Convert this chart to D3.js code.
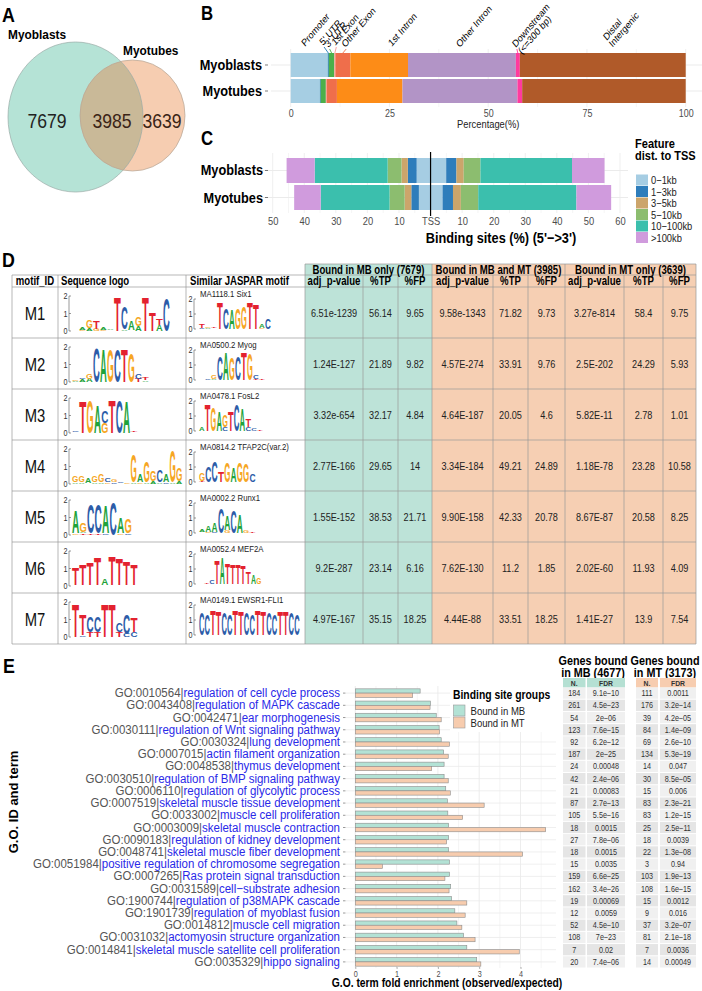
<!DOCTYPE html>
<html>
<head>
<meta charset="utf-8">
<script src="https://cdn.jsdelivr.net/npm/d3@7"></script>
<style>
  body { margin: 0; background: #fff; }
  svg text { font-family: "Liberation Sans", Arial, Helvetica, sans-serif; }
</style>
</head>
<body>
<svg id="fig" width="702" height="991"></svg>
<script>
// ---------------- data ----------------

// A: overlap of binding sites
var vennNames = ["Myoblasts", "Myotubes"];
var vennCounts = [7679, 3985, 3639];   // MB only, both, MT only

// B: genomic annotation (% of sites)
var annoCats = ["Promoter", "5' UTR", "3' UTR", "1st Exon", "Other Exon", "1st Intron",
                "Other Intron", "Downstream\n(<=300 bp)", "Distal\nIntergenic"];
var annoColors = ["#a6cee3", "#1f78b4", "#4caf4a", "#fb9a99", "#ef6e4b", "#fd8c17",
                  "#b294c6", "#ff3a9e", "#b05a29"];
var annoMB = [9.4, 0.25, 1.4, 0.25, 3.8, 14.6, 27.3, 1.0, 42.0];
var annoMT = [7.4, 0.2, 1.3, 0.2, 2.6, 16.6, 29.1, 1.2, 41.4];
var annoLabelAt = [3.6, 8.2, 9.6, 11.3, 13.8, 25.6, 42.8, 57.0, 80.0];

// C: distance to TSS (% of sites), upstream / downstream
var distBins = ["0\u22121kb", "1\u22123kb", "3\u22125kb", "5\u221210kb", "10\u2212100kb", ">100kb"];
var distColors = ["#a6cde3", "#2e7dbb", "#cca56b", "#8cbd6f", "#3bbfad", "#d09bdd"];
var distUpMB = [4.4, 2.8, 2.0, 4.4, 23.1, 8.9];
var distDownMB = [4.95, 3.25, 2.3, 5.3, 29.0, 10.3];
var distUpMT = [3.7, 2.4, 2.1, 4.8, 21.8, 8.4];
var distDownMT = [3.8, 3.3, 2.5, 5.5, 31.1, 11.0];
var distTicks = [-50, -40, -30, -20, -10, 0, 10, 20, 30, 40, 50, 60];

// D: motif table
var motifIds = ["M1", "M2", "M3", "M4", "M5", "M6", "M7"];
var jasparNames = ["MA1118.1 Six1", "MA0500.2 Myog", "MA0478.1 FosL2", "MA0814.2 TFAP2C(var.2)",
                   "MA0002.2 Runx1", "MA0052.4 MEF2A", "MA0149.1 EWSR1-FLI1"];
var groupHeads = ["Bound in MB only (7679)", "Bound in MB and MT (3985)", "Bound in MT only (3639)"];
var subHeads = ["adj_p-value", "%TP", "%FP"];
var pvalMB = ["6.51e-1239", "1.24E-127", "3.32e-654", "2.77E-166", "1.55E-152", "9.2E-287", "4.97E-167"];
var tpMB = ["56.14", "21.89", "32.17", "29.65", "38.53", "23.14", "35.15"];
var fpMB = ["9.65", "9.82", "4.84", "14", "21.71", "6.16", "18.25"];
var pvalBoth = ["9.58e-1343", "4.57E-274", "4.64E-187", "3.34E-184", "9.90E-158", "7.62E-130", "4.44E-88"];
var tpBoth = ["71.82", "33.91", "20.05", "49.21", "42.33", "11.2", "33.51"];
var fpBoth = ["9.73", "9.76", "4.6", "24.89", "20.78", "1.85", "18.25"];
var pvalMT = ["3.27e-814", "2.5E-202", "5.82E-11", "1.18E-78", "8.67E-87", "2.02E-60", "1.41E-27"];
var tpMT = ["58.4", "24.29", "2.78", "23.28", "20.58", "11.93", "13.9"];
var fpMT = ["9.75", "5.93", "1.01", "10.58", "8.25", "4.09", "7.54"];

// sequence logos: positions split by space, letters bottom->top as Letter+bits
var seqLogos = [
  "A.05,G.05 G.08,A.15 A.15,G.45 G.12,T.45 G.08,A.15 C.05,A.08 T1.95 A.1,C1.3 T.05,A.5 A.3,G.55 T1.95 T1.05 A.35,T.35 C1.9",
  "A.08,G.08 A.15,C.1 A.2,G.3 C1.95 A1.9 G1.9 C1.9 T1.9 G1.7 T.2,C.3 A.1,T.12 C.05,G.05",
  "G.05,C.08 T1.85 G1.9 A1.6 G.6,C.7 T1.9 C1.9 A1.8 C.05,T.1",
  "A.1,G.35 A.1,G.4 C.05,A.3 A.1,G.35 A.1,G.45 G.1,C.25 C.1,G.15 A.05,C.1 G.08,C.05 A.1,G1.6 G.1,A.45 A.1,G1.2 A.15,G.6 A.1,C.7 C.1,A.45 A.1,G1.8 A.15,G.75",
  "G.1,A1.3 T.1,A.1,G.5 T.1,C1.7 T.1,C1.7 C.1,A1.6 C1.9 G.1,A.9 C.1,G.8",
  "A.05,T1.0 A.05,T1.2 A.05,T1.3 A.05,T1.6 T.05,A.4 A.05,T1.7 A.05,T1.5 A.05,T1.4 A.05,T1.2",
  "T1.9 C.1,T1.2 T.3,C.9 T.3,C.9 T1.9 T1.9 T.3,C.5 C.2,C1.1 C.3,T.8"
];
var jasparLogos = [
  "C.1,T.3 A.1,G.1 C.05,T.1 T1.8 C1.4 A1.3 G1.4 G1.5 T1.8 T1.7 G.1,A.3 C.7",
  "A.05,G.05 C.1 A.1,G.3 C1.6 A1.9 G1.5 C1.6 T1.9 G1.8 T.1,C.25 T.1",
  "A.3 T1.8 G1.6 A1.3 C.3,G.8 T1.3 C1.8 A1.5 C.3,T.5 C.2 T.1 C.05,A.05",
  "T.1,G.5 C1.1 C1.4 T.7 G1.3 A1.0 G1.3 G1.2 C.5",
  "G.05,A.2 G.1,A.4 C.1,A.6 C1.7 G.2,A1.0 C1.5 A1.2 G.2 T.1",
  "C.05 T.1 C.3 T1.6 A1.8 T1.4 T1.3 T1.3 T1.2 T.8 A.6 G.4 A.05 C.05",
  "C1.5 C1.45 T1.65 T1.6 C1.5 C1.4 T1.65 T1.6 C1.5 C1.45 T1.65 T1.6 C1.5 C1.45 T1.6 T1.6 C1.5 C1.4"
];

// E: GO enrichment
var goIds = ["GO:0010564", "GO:0043408", "GO:0042471", "GO:0030111", "GO:0030324", "GO:0007015",
  "GO:0048538", "GO:0030510", "GO:0006110", "GO:0007519", "GO:0033002", "GO:0003009",
  "GO:0090183", "GO:0048741", "GO:0051984", "GO:0007265", "GO:0031589", "GO:1900744",
  "GO:1901739", "GO:0014812", "GO:0031032", "GO:0014841", "GO:0035329"];
var goTerms = ["regulation of cell cycle process", "regulation of MAPK cascade", "ear morphogenesis",
  "regulation of Wnt signaling pathway", "lung development", "actin filament organization",
  "thymus development", "regulation of BMP signaling pathway", "regulation of glycolytic process",
  "skeletal muscle tissue development", "muscle cell proliferation", "skeletal muscle contraction",
  "regulation of kidney development", "skeletal muscle fiber development",
  "positive regulation of chromosome segregation", "Ras protein signal transduction",
  "cell\u2212substrate adhesion", "regulation of p38MAPK cascade", "regulation of myoblast fusion",
  "muscle cell migration", "actomyosin structure organization",
  "skeletal muscle satellite cell proliferation", "hippo signaling"];
var foldMB = [1.57, 1.82, 1.96, 2.03, 2.08, 2.14, 2.15, 2.15, 2.19, 2.23, 2.24, 2.26,
              2.26, 2.26, 2.28, 2.28, 2.31, 2.33, 2.41, 2.46, 2.62, 2.70, 2.94];
var foldMT = [1.39, 1.81, 2.08, 2.04, 2.28, 2.25, 1.85, 2.25, 2.30, 3.12, 2.60, 4.61,
              2.21, 4.05, 0.66, 2.17, 2.27, 2.70, 2.66, 2.58, 2.90, 3.97, 3.04];
var nMB = [184, 261, 54, 123, 92, 187, 24, 42, 21, 87, 105, 18, 27, 18, 15, 159, 162, 19, 12, 52, 108, 7, 20];
var fdrMB = ["9.1e\u221210", "4.5e\u221223", "2e\u221206", "7.6e\u221215", "6.2e\u221212", "2e\u221225",
  "0.00048", "2.4e\u221206", "0.00083", "2.7e\u221213", "5.5e\u221216", "0.0015", "7.8e\u221206",
  "0.0015", "0.0035", "6.6e\u221225", "3.4e\u221226", "0.00069", "0.0059", "4.5e\u221210",
  "7e\u221223", "0.02", "7.4e\u221206"];
var nMT = [111, 176, 39, 84, 69, 134, 14, 30, 15, 83, 83, 25, 18, 22, 3, 103, 108, 15, 9, 37, 81, 7, 14];
var fdrMT = ["0.0011", "3.2e\u221214", "4.2e\u221205", "1.4e\u221209", "2.6e\u221210", "5.3e\u221219",
  "0.047", "8.5e\u221205", "0.006", "2.3e\u221221", "1.2e\u221215", "2.5e\u221211", "0.0039",
  "1.3e\u221208", "0.94", "1.9e\u221213", "1.6e\u221215", "0.0012", "0.016", "3.2e\u221207",
  "2.1e\u221218", "0.0036", "0.00049"];
var groupNames = ["Bound in MB", "Bound in MT"];
var xTicksE = [0, 1, 2, 3, 4];

// ---------------- drawing ----------------
var svg = d3.select("#fig");
var grid = "#ebebeb";

// text helper: the figure's panels were squeezed sideways, so text gets an x scale
function txt(g, x, y, s, size, opt) {
  opt = opt || {};
  var tf = "translate(" + x + "," + y + ") scale(" + (opt.sx || 1) + ",1)";
  if (opt.rot) tf += " rotate(" + opt.rot + ")";
  return g.append("text")
    .attr("transform", tf)
    .attr("font-size", size)
    .attr("text-anchor", opt.anchor || "start")
    .attr("font-weight", opt.bold ? "bold" : null)
    .attr("fill", opt.fill || "#000")
    .text(s);
}

// panel letters
txt(svg, 2, 22, "A", 21, {bold: true, sx: .85});
txt(svg, 201, 20, "B", 21, {bold: true, sx: .8});
txt(svg, 201, 145, "C", 21, {bold: true, sx: .8});
txt(svg, 2, 267, "D", 21, {bold: true, sx: .85});
txt(svg, 3, 673, "E", 21, {bold: true, sx: .85});

// ---- A: venn ----
var gA = svg.append("g");
var vennMB = {cx: 75.5, cy: 117, rx: 67.5, ry: 75};
var vennMT = {cx: 132.5, cy: 115.5, rx: 52.5, ry: 55.5};
function ell(g, e) {
  return g.append("ellipse").attr("cx", e.cx).attr("cy", e.cy).attr("rx", e.rx).attr("ry", e.ry);
}
svg.append("defs").append("clipPath").attr("id", "clipMB").call(function(c) { ell(c, vennMB); });
ell(gA, vennMB).attr("fill", "#b5e3d6");
ell(gA, vennMT).attr("fill", "#f6cdb1");
ell(gA, vennMT).attr("fill", "#c9b998").attr("clip-path", "url(#clipMB)");
ell(gA, vennMB).attr("fill", "none").attr("stroke", "#9aaaa6").attr("stroke-width", 0.7);
ell(gA, vennMT).attr("fill", "none").attr("stroke", "#b5a595").attr("stroke-width", 0.7);
txt(gA, 8, 39, vennNames[0], 13.5, {bold: true, sx: .88});
txt(gA, 123, 55, vennNames[1], 13.5, {bold: true, sx: .88});
txt(gA, 47, 128, vennCounts[0], 20, {anchor: "middle", sx: .88, fill: "#222"});
txt(gA, 112, 128, vennCounts[1], 20, {anchor: "middle", sx: .88, fill: "#3b2416"});
txt(gA, 162, 128, vennCounts[2], 20, {anchor: "middle", sx: .88, fill: "#3b2416"});

// ---- B: annotation bars ----
var gB = svg.append("g");
var xB = d3.scaleLinear().domain([0, 100]).range([290.7, 685.7]);
var yB = d3.scaleBand().domain(vennNames).range([53, 103]).paddingInner(0.077);

d3.range(0, 100.1, 12.5).forEach(function(v) {
  gB.append("line").attr("x1", xB(v)).attr("x2", xB(v)).attr("y1", 49).attr("y2", 107)
    .attr("stroke", grid).attr("stroke-width", v % 25 ? 0.5 : 0.8);
});
vennNames.forEach(function(n) {
  gB.append("line").attr("x1", 271).attr("x2", 705)
    .attr("y1", yB(n) + yB.bandwidth() / 2).attr("y2", yB(n) + yB.bandwidth() / 2)
    .attr("stroke", grid);
});

var annoRows = [{name: vennNames[0], vals: annoMB}, {name: vennNames[1], vals: annoMT}];
annoRows.forEach(function(r) {
  var cum = d3.cumsum(r.vals);
  gB.selectAll(null).data(r.vals).enter().append("rect")
    .attr("x", function(d, i) { return xB(cum[i] - d); })
    .attr("y", yB(r.name))
    .attr("width", function(d, i) { return xB(cum[i]) - xB(cum[i] - d); })
    .attr("height", yB.bandwidth())
    .attr("fill", function(d, i) { return annoColors[i]; });
  txt(gB, 262, yB(r.name) + yB.bandwidth() / 2 + 5, r.name, 15, {bold: true, anchor: "end", sx: .85});
  gB.append("line").attr("x1", 265).attr("x2", 268)
    .attr("y1", yB(r.name) + yB.bandwidth() / 2).attr("y2", yB(r.name) + yB.bandwidth() / 2)
    .attr("stroke", "#444").attr("stroke-width", 0.7);
});

// rotated segment labels with leader lines for the narrow ones
var annoLabelY = [47, 46, 48, 46, 48, 47, 48, 48, 41];
var mbCum = d3.cumsum(annoMB);
annoCats.forEach(function(c, i) {
  var lx = xB(annoLabelAt[i]), ly = annoLabelY[i];
  var t = txt(gB, lx, ly, "", 10.2, {sx: .85, rot: -45});
  c.split("\n").forEach(function(l, k) {
    t.append("tspan").attr("x", 0).attr("dy", k ? "0.95em" : 0).text(l);
  });
  if ([1, 2, 3, 4, 7].indexOf(i) >= 0) {
    gB.append("line")
      .attr("x1", xB(mbCum[i] - annoMB[i] / 2)).attr("y1", yB.range()[0])
      .attr("x2", lx + 1).attr("y2", ly + 1)
      .attr("stroke", annoColors[i]).attr("stroke-width", 0.9);
  }
});

var axB = gB.append("g").attr("transform", "translate(0,104)")
  .call(d3.axisBottom(xB).tickValues([0, 25, 50, 75, 100]).tickSize(0).tickPadding(6));
axB.select(".domain").remove();
axB.selectAll("text").attr("font-size", 10.5).attr("fill", "#4d4d4d").attr("transform", "scale(.85,1)");
txt(gB, xB(50), 128, "Percentage(%)", 11, {anchor: "middle", sx: .85, fill: "#222"});

// ---- C: distance to TSS ----
var gC = svg.append("g");
var xC = d3.scaleLinear().domain([-50, 60]).range([272.7, 620]);
var yC = d3.scaleBand().domain(vennNames).range([158, 210]).paddingInner(0.075);

d3.range(-50, 60.1, 5).forEach(function(v) {
  gC.append("line").attr("x1", xC(v)).attr("x2", xC(v)).attr("y1", 153).attr("y2", 213)
    .attr("stroke", grid).attr("stroke-width", v % 10 ? 0.5 : 0.8);
});
vennNames.forEach(function(n) {
  gC.append("line").attr("x1", 262).attr("x2", 628)
    .attr("y1", yC(n) + yC.bandwidth() / 2).attr("y2", yC(n) + yC.bandwidth() / 2)
    .attr("stroke", grid);
});

var distRows = [
  {name: vennNames[0], up: distUpMB, down: distDownMB},
  {name: vennNames[1], up: distUpMT, down: distDownMT}
];
distRows.forEach(function(r) {
  [[r.up, -1], [r.down, 1]].forEach(function(side) {
    var cum = d3.cumsum(side[0]), sgn = side[1];
    gC.selectAll(null).data(side[0]).enter().append("rect")
      .attr("x", function(d, i) { return sgn > 0 ? xC(cum[i] - d) : xC(-cum[i]); })
      .attr("y", yC(r.name))
      .attr("width", function(d) { return xC(d) - xC(0); })
      .attr("height", yC.bandwidth())
      .attr("fill", function(d, i) { return distColors[i]; });
  });
  txt(gC, 263, yC(r.name) + yC.bandwidth() / 2 + 5, r.name, 15, {bold: true, anchor: "end", sx: .85});
  gC.append("line").attr("x1", 265).attr("x2", 268)
    .attr("y1", yC(r.name) + yC.bandwidth() / 2).attr("y2", yC(r.name) + yC.bandwidth() / 2)
    .attr("stroke", "#444").attr("stroke-width", 0.7);
});
gC.append("line").attr("x1", xC(0)).attr("x2", xC(0)).attr("y1", 152).attr("y2", 216)
  .attr("stroke", "#000").attr("stroke-width", 1.2);

var axC = gC.append("g").attr("transform", "translate(0,211)")
  .call(d3.axisBottom(xC).tickValues(distTicks).tickSize(0).tickPadding(6)
    .tickFormat(function(v) { return v === 0 ? "TSS" : Math.abs(v); }));
axC.select(".domain").remove();
axC.selectAll("text").attr("font-size", 11).attr("fill", "#4d4d4d").attr("transform", "scale(.85,1)");
txt(gC, 501, 243, "Binding sites (%) (5'\u2212>3')", 15, {bold: true, anchor: "middle", sx: .85});

// legend
txt(gC, 635, 148, "Feature", 13, {bold: true, sx: .85});
txt(gC, 635, 160, "dist. to TSS", 13, {bold: true, sx: .85});
distBins.forEach(function(b, i) {
  var cy = 180 + i * 11.5;
  gC.append("rect").attr("x", 636).attr("y", cy - 5.5).attr("width", 12).attr("height", 11)
    .attr("fill", distColors[i]);
  txt(gC, 651, cy + 4, b, 11, {sx: .85, fill: "#222"});
});

// ---- D: motif table ----
var gD = svg.append("g");
var yD = d3.scaleBand().domain(motifIds).range([287, 644]);
var colX = [12, 58, 186, 305, 363, 398, 432, 493, 528, 565, 624, 663, 696];
var line = "#9a9a9a";
var greenD = "#bde3d8", orangeD = "#f6cfb3";

gD.append("rect").attr("x", 305).attr("y", 264).attr("width", 127).attr("height", 380).attr("fill", greenD);
gD.append("rect").attr("x", 432).attr("y", 264).attr("width", 264).attr("height", 380).attr("fill", orangeD);

function hline(x1, x2, y) {
  gD.append("line").attr("x1", x1).attr("x2", x2).attr("y1", y).attr("y2", y)
    .attr("stroke", line).attr("stroke-width", 0.7);
}
function vline(x, y1, y2) {
  gD.append("line").attr("x1", x).attr("x2", x).attr("y1", y1).attr("y2", y2)
    .attr("stroke", line).attr("stroke-width", 0.7);
}
hline(305, 696, 264);
hline(12, 696, 275);
hline(12, 696, 287);
motifIds.forEach(function(m) { hline(12, 696, yD(m) + yD.bandwidth()); });
colX.forEach(function(x, i) {
  var top = [3, 6, 9, 12].indexOf(i) >= 0 ? 264 : 275;
  vline(x, top, 644);
});

// headers
groupHeads.forEach(function(h, k) {
  txt(gD, (colX[3 + 3 * k] + colX[6 + 3 * k]) / 2, 273.5, h, 12, {bold: true, anchor: "middle", sx: .8});
  subHeads.forEach(function(s, j) {
    txt(gD, (colX[3 + 3 * k + j] + colX[4 + 3 * k + j]) / 2, 285, s, 12, {bold: true, anchor: "middle", sx: .8});
  });
});
txt(gD, 35, 285, "motif_ID", 12, {bold: true, anchor: "middle", sx: .8});
txt(gD, 61, 285, "Sequence logo", 12, {bold: true, sx: .8});
txt(gD, 190, 285, "Similar JASPAR motif", 12, {bold: true, sx: .8});

// cells
var tableCols = [pvalMB, tpMB, fpMB, pvalBoth, tpBoth, fpBoth, pvalMT, tpMT, fpMT];
motifIds.forEach(function(m, r) {
  var cy = yD(m) + yD.bandwidth() / 2;
  txt(gD, 35, cy + 7, m, 19, {anchor: "middle", sx: .78, fill: "#111"});
  tableCols.forEach(function(col, j) {
    txt(gD, (colX[3 + j] + colX[4 + j]) / 2, cy + 4, col[r], 11.4, {anchor: "middle", sx: .8, fill: "#222"});
  });
});

// sequence logos: each letter is sized so its cap height equals its information content
var logoColors = {A: "#1fa33b", C: "#2c5ca8", G: "#f6a623", T: "#e3222f"};
function logoAxis(g, x, y0, hgt) {
  g.append("path")
    .attr("d", "M" + (x + 2) + "," + (y0 - hgt) + "h-2V" + y0 + "h2M" + x + "," + (y0 - hgt / 2) + "h2")
    .attr("fill", "none").attr("stroke", "#555").attr("stroke-width", 0.6);
  ["0", "1", "2"].forEach(function(l, i) {
    txt(g, x - 1.5, y0 - i * hgt / 2 + 3, l, 9, {anchor: "end", sx: .8, fill: "#333"});
  });
}
function drawLogo(g, spec, x0, y0, colW, bitPx) {
  spec.split(" ").forEach(function(pos, i) {
    var cum = 0;
    pos.split(",").forEach(function(item) {
      var letter = item[0], h = parseFloat(item.slice(1)) * bitPx;
      if (h > 1.1) {
        g.append("text")
          .attr("x", x0 + i * colW)
          .attr("y", y0 - cum)
          .attr("font-size", h / 0.72)
          .attr("font-weight", "bold")
          .attr("textLength", colW * 0.97)
          .attr("lengthAdjust", "spacingAndGlyphs")
          .attr("fill", logoColors[letter])
          .text(letter);
      }
      cum += h;
    });
  });
}
var seqColW = [7, 7, 7.3, 6.5, 7.5, 7.3, 7.3];
var jasColW = [6, 6, 5.8, 6.3, 6.3, 5.2, 5.6];
motifIds.forEach(function(m, r) {
  var top = yD(m);
  logoAxis(gD, 69, top + 44, 35);
  drawLogo(gD, seqLogos[r], 72, top + 44, seqColW[r], 17.5);
  logoAxis(gD, 194, top + 42, 30);
  drawLogo(gD, jasparLogos[r], 199, top + 42, jasColW[r], 15);
  txt(gD, 200, top + 9.5, jasparNames[r], 9.5, {sx: .82, fill: "#222"});
});

// ---- E: GO enrichment ----
var gE = svg.append("g");
var xE = d3.scaleLinear().domain([0, 4]).range([355.3, 520.5]);
var yE = d3.scaleBand().domain(goIds).range([687, 968]).paddingInner(0.3).paddingOuter(0.15);
var yEin = d3.scaleBand().domain(groupNames).range([0, yE.bandwidth()]);
var fillE = ["#b3e2d5", "#f7ccae"];

d3.range(0, 4.75, 0.5).forEach(function(v) {
  gE.append("line").attr("x1", xE(v)).attr("x2", xE(v)).attr("y1", 686).attr("y2", 968)
    .attr("stroke", grid).attr("stroke-width", v % 1 ? 0.5 : 0.9);
});
goIds.forEach(function(id, i) {
  var cy = yE(id) + yE.bandwidth() / 2;
  gE.append("line").attr("x1", 346).attr("x2", 556).attr("y1", cy).attr("y2", cy)
    .attr("stroke", grid).attr("stroke-width", 0.8);
  gE.append("line").attr("x1", 343).attr("x2", 345.5).attr("y1", cy).attr("y2", cy)
    .attr("stroke", "#555").attr("stroke-width", 0.6);
  var t = txt(gE, 340, cy + 4, "", 12.5, {anchor: "end", sx: .92});
  t.append("tspan").attr("fill", "#555").text(id + "|");
  t.append("tspan").attr("fill", "#2a2ae8").text(goTerms[i]);
});

[foldMB, foldMT].forEach(function(vals, k) {
  gE.selectAll(null).data(vals).enter().append("rect")
    .attr("x", xE(0))
    .attr("y", function(d, i) { return yE(goIds[i]) + yEin(groupNames[k]); })
    .attr("width", function(d) { return xE(d) - xE(0); })
    .attr("height", yEin.bandwidth())
    .attr("fill", fillE[k])
    .attr("stroke", "#8c8c8c").attr("stroke-width", 0.6);
});

var axE = gE.append("g").attr("transform", "translate(0,967)")
  .call(d3.axisBottom(xE).tickValues(xTicksE).tickFormat(d3.format("d")).tickSize(2).tickPadding(1.5));
axE.select(".domain").remove();
axE.selectAll("line").attr("stroke", "#666").attr("stroke-width", 0.5);
axE.selectAll("text").attr("font-size", 8.5).attr("fill", "#4d4d4d").attr("transform", "scale(.85,1)");
txt(gE, 447, 987, "G.O. term fold enrichment (observed/expected)", 12, {bold: true, anchor: "middle", sx: .86});
txt(gE, 18, 802, "G.O. ID and term", 13, {bold: true, anchor: "middle", rot: -90});

// legend
gE.append("rect").attr("x", 450).attr("y", 686).attr("width", 108).attr("height", 46).attr("fill", "#fff");
txt(gE, 453, 699, "Binding site groups", 12.5, {bold: true, sx: .83});
groupNames.forEach(function(n, k) {
  var y = 705 + k * 12;
  gE.append("rect").attr("x", 453.5).attr("y", y).attr("width", 11.5).attr("height", 11)
    .attr("fill", fillE[k]).attr("stroke", "#999").attr("stroke-width", 0.6);
  txt(gE, 470.5, y + 9.5, n, 11, {sx: .87, fill: "#222"});
});

// side tables of gene counts / FDR
var sideTables = [
  {head: ["Genes bound", "in MB (4677)"], n: nMB, fdr: fdrMB, cx: 593, nX: [563, 585.5], fX: [587, 625], hue: "#b5e0d3"},
  {head: ["Genes bound", "in MT (3173)"], n: nMT, fdr: fdrMT, cx: 665, nX: [636, 658], fX: [660, 696], hue: "#f7cdb0"}
];
sideTables.forEach(function(tb) {
  txt(gE, tb.cx, 665, tb.head[0], 12, {bold: true, anchor: "middle", sx: .9});
  txt(gE, tb.cx, 676.5, tb.head[1], 12, {bold: true, anchor: "middle", sx: .9});
  [tb.nX, tb.fX].forEach(function(cx, j) {
    gE.append("rect").attr("x", cx[0]).attr("y", 678).attr("width", cx[1] - cx[0]).attr("height", 9.5)
      .attr("fill", tb.hue);
    txt(gE, (cx[0] + cx[1]) / 2, 685.5, j ? "FDR" : "N.", 8, {bold: true, anchor: "middle", sx: .85, fill: "#333"});
  });
  goIds.forEach(function(id, i) {
    var y0 = yE(id) + yE.bandwidth() / 2 - yE.step() / 2;
    var bg = i % 2 ? "#e5e5e5" : "#f0f0f0";
    [[tb.nX, tb.n[i]], [tb.fX, tb.fdr[i]]].forEach(function(c) {
      gE.append("rect").attr("x", c[0][0]).attr("y", y0 + 0.5).attr("width", c[0][1] - c[0][0])
        .attr("height", yE.step() - 1).attr("fill", bg);
      txt(gE, (c[0][0] + c[0][1]) / 2, y0 + yE.step() / 2 + 3, c[1], 8.5, {anchor: "middle", sx: .85, fill: "#333"});
    });
  });
});
</script>
</body>
</html>
